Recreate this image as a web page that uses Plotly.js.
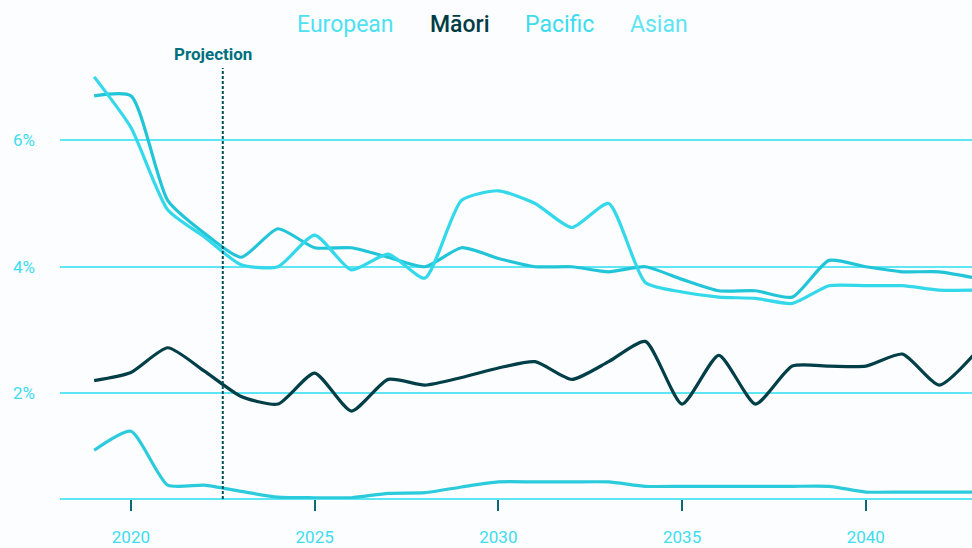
<!DOCTYPE html>
<html>
<head>
<meta charset="utf-8">
<script src="https://cdn.plot.ly/plotly-3.0.1.min.js"></script>
<style>
  html, body { margin: 0; padding: 0; background: #fbfdfe; }
  #chart { width: 972px; height: 548px; }
</style>
</head>
<body>
<div id="chart"></div>
<script>
const years = [2019,2020,2021,2022,2023,2024,2025,2026,2027,2028,2029,2030,2031,2032,2033,2034,2035,2036,2037,2038,2039,2040,2041,2042,2043];
const european = [1.1,1.4,0.55,0.55,0.45,0.36,0.35,0.35,0.42,0.43,0.52,0.6,0.6,0.6,0.6,0.53,0.53,0.53,0.53,0.53,0.53,0.44,0.44,0.44,0.44];
const maori = [2.2,2.33,2.72,2.35,1.95,1.83,2.32,1.72,2.22,2.13,2.25,2.4,2.5,2.22,2.5,2.82,1.83,2.6,1.83,2.43,2.43,2.43,2.62,2.13,2.65];
const pacific = [6.7,6.7,5.05,4.53,4.15,4.6,4.3,4.3,4.15,4.0,4.3,4.13,4.0,4.0,3.92,4.0,3.8,3.62,3.62,3.52,4.1,4.0,3.92,3.92,3.82];
const asian = [7.0,6.2,4.9,4.47,4.03,4.0,4.5,3.95,4.2,3.82,5.05,5.2,5.0,4.62,5.0,3.75,3.6,3.52,3.5,3.42,3.7,3.7,3.7,3.63,3.63];
const seriesNames = ['European','Māori','Pacific','Asian'];
const projectionYear = 2022.5;
const yTicks = [2,4,6];
const yTickText = ['2%','4%','6%'];
const xTicks = [2020,2025,2030,2035,2040];

const colors = {European:'#2ccbdc', 'Māori':'#003f47', Pacific:'#22c5d8', Asian:'#33d8ea'};
const legendColors = {European:'#4ee1f1', 'Māori':'#003c44', Pacific:'#3cdcee', Asian:'#5ee4f3'};
const dataMap = {European:european, 'Māori':maori, Pacific:pacific, Asian:asian};

const traces = seriesNames.map(n => ({
  x: years, y: dataMap[n], type:'scatter', mode:'lines', name:n,
  line:{color:colors[n], width:3.2, shape:'spline', smoothing:0.6},
  hoverinfo:'skip'
}));

const legendX = {European:0.3125, 'Māori':0.4386, Pacific:0.548, Asian:0.657};
const annotations = seriesNames.map(n => ({
  text:n, xref:'paper', yref:'paper', x:legendX[n], y:1.102, xanchor:'center', yanchor:'middle',
  showarrow:false, font:{family:'Roboto', size:23, color:legendColors[n], weight: n==='Māori'?500:400}
}));
annotations.push({
  text:'<b>Projection</b>', xref:'x', yref:'paper', x:projectionYear, xshift:-10, y:1.0325,
  xanchor:'center', yanchor:'middle', showarrow:false,
  font:{family:'Roboto', size:17, color:'#00707e'}
});

const layout = {
  width:972, height:548,
  margin:{l:60, r:0, t:68, b:49},
  paper_bgcolor:'#fbfdfe', plot_bgcolor:'#fbfdfe',
  showlegend:false,
  font:{family:'Roboto'},
  xaxis:{
    range:[2018.07, 2042.89], tickvals:xTicks, ticktext:xTicks.map(String),
    showgrid:false, zeroline:false, showline:false,
    ticks:'outside', ticklen:11, tickwidth:2, tickcolor:'#0b6a74',
    tickfont:{family:'Roboto', size:17, color:'#40dcf0'}, ticklabelstandoff:12
  },
  yaxis:{
    range:[0.33, 7.14], tickvals:yTicks, ticktext:yTickText,
    showgrid:true, gridcolor:'#5ee6f5', gridwidth:2, zeroline:false,
    showline:false, ticks:'',
    tickfont:{family:'Roboto', size:17, color:'#40dcf0'}, ticklabelstandoff:24
  },
  shapes:[
    {type:'line', xref:'paper', yref:'paper', x0:0, x1:1, y0:0, y1:0, line:{color:'#5ee6f5', width:2}, layer:'below'},
    {type:'line', xref:'x', yref:'paper', x0:projectionYear, x1:projectionYear, y0:0, y1:1, line:{color:'#00505a', width:2, dash:'3px,2px'}}
  ],
  annotations:annotations
};

Plotly.newPlot('chart', traces, layout, {displayModeBar:false, staticPlot:true});
</script>
</body>
</html>
